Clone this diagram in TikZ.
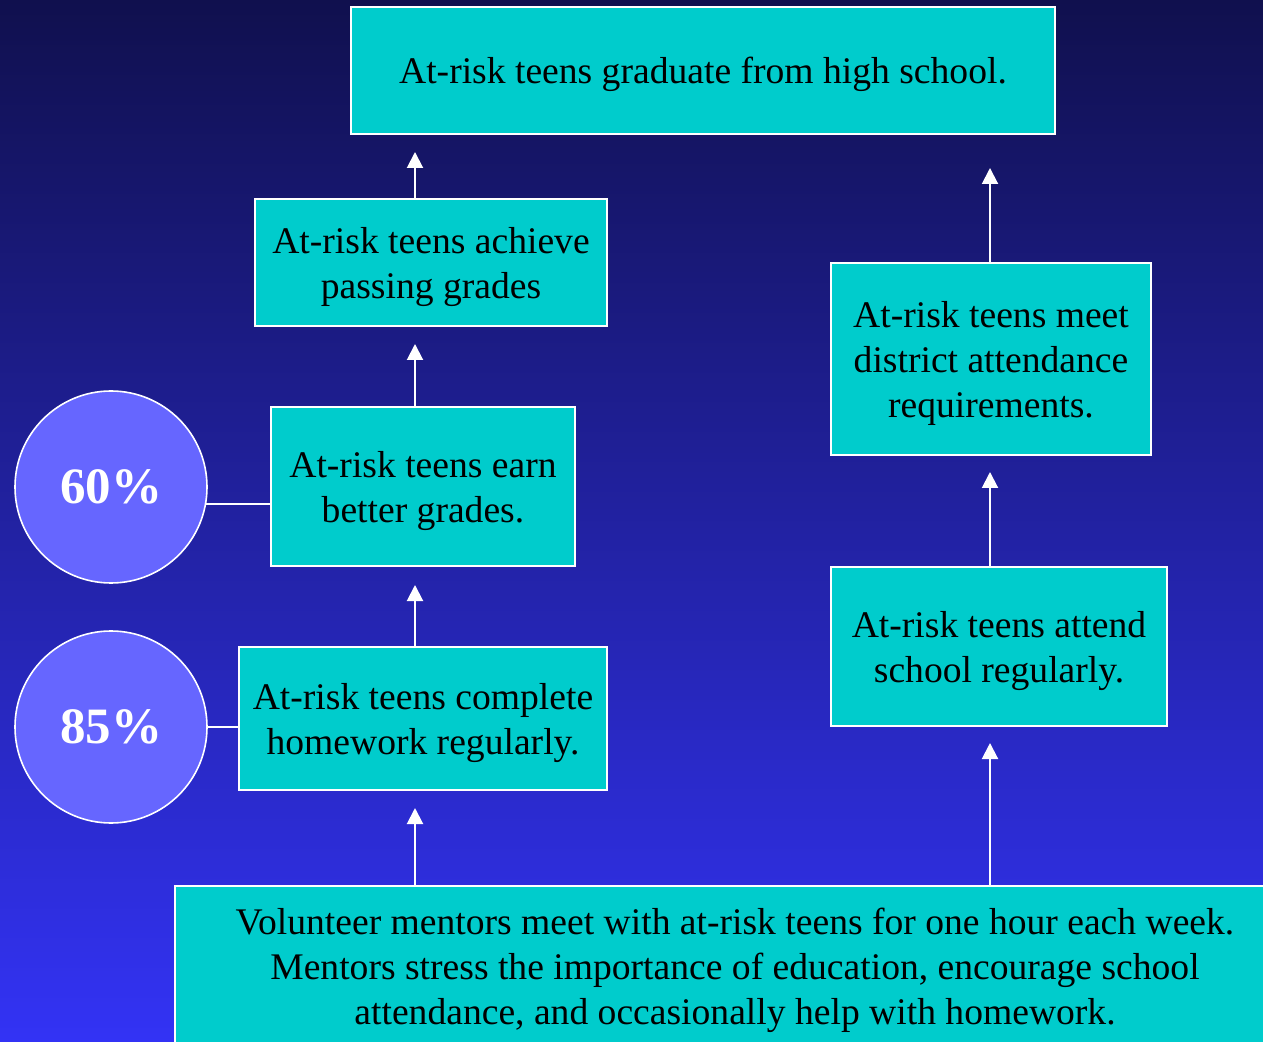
\documentclass[tikz,border=0pt]{standalone}
\usepackage{fontspec}
\setmainfont{Liberation Serif}
\usepackage{xcolor}
\usepackage{tikz}
\usetikzlibrary{arrows.meta, positioning}
\definecolor{bgtop}{RGB}{16,16,78}
\definecolor{bgbottom}{RGB}{51,51,245}
\definecolor{teal}{RGB}{0,204,204}
\definecolor{ringblue}{RGB}{102,102,255}
\tikzstyle{arrow} = [white, line width=1pt, -{Triangle[width=8pt,length=8pt]}]

\begin{document}
\begin{tikzpicture}[x=0.5pt, y=-0.5pt,
			outcome/.style={rectangle, draw=white, line width=1pt, fill=teal, align=center,
				font=\fontsize{18.8}{22.5}\selectfont, inner sep=0pt, text depth=-1.5pt},
			rate/.style={circle, draw=white, line width=0.8pt, fill=ringblue, minimum size=96pt,
				text=white, font=\fontsize{25.5}{30}\selectfont\bfseries, inner sep=0pt}
			]
			
			% Background
			\useasboundingbox (0,0) rectangle (1263,1042);
			\clip (0,0) rectangle (1263,1042);
			\shade[top color=bgtop, bottom color=bgbottom] (0,0) rectangle (1263,1042);
			
			% Outcome boxes
			\node[outcome, minimum width=352pt, minimum height=63.5pt] (goal) at (703,70.5) {At-risk teens graduate from high school.};
			\node[outcome, minimum width=176pt, minimum height=63.5pt] (pass) at (431,262.5) {At-risk teens achieve\\ passing grades};
			\node[outcome, minimum width=152pt, minimum height=79.5pt] (earn) at (423,486.5) {At-risk teens earn\\ better grades.};
			\node[outcome, minimum width=184pt, minimum height=71.5pt] (hw) at (423,718.5) {At-risk teens complete\\ homework regularly.};
			\node[outcome, minimum width=160pt, minimum height=96pt] (meet) at (991,359) {At-risk teens meet\\ district attendance\\ requirements.};
			\node[outcome, minimum width=168pt, minimum height=79.5pt] (attend) at (999,646.5) {At-risk teens attend\\ school regularly.};
			\node[outcome, minimum width=560pt, minimum height=80pt] (mentor) at (735,966) {Volunteer mentors meet with at-risk teens for one hour each week.\\ Mentors stress the importance of education, encourage school\\ attendance, and occasionally help with homework.};
			
			% Result circles
			\node[rate] (r60) at (111,487) {60\%};
			\node[rate] (r85) at (111,727) {85\%};
			
			% Arrow tips stop short of the next box
			\coordinate (tipgoalL) at (415,152);
			\coordinate (tippass) at (415,344);
			\coordinate (tipearn) at (415,585);
			\coordinate (tiphw) at (415,808);
			\coordinate (tipgoalR) at (990,168);
			\coordinate (tipmeet) at (990,472);
			\coordinate (tipattend) at (990,743);
			
			% Left chain
			\draw[arrow] (mentor.north -| tiphw) -- (tiphw);
			\draw[arrow] (hw.north -| tipearn) -- (tipearn);
			\draw[arrow] (earn.north -| tippass) -- (tippass);
			\draw[arrow] (pass.north -| tipgoalL) -- (tipgoalL);
			
			% Right chain
			\draw[arrow] (mentor.north -| tipattend) -- (tipattend);
			\draw[arrow] (attend.north -| tipmeet) -- (tipmeet);
			\draw[arrow] (meet.north -| tipgoalR) -- (tipgoalR);
			
			% Circles to boxes
			\draw[white, line width=1pt] (r60.-10) -- (r60.-10 -| earn.west);
			\draw[white, line width=1pt] (r85.east) -- (r85.east -| hw.west);
			
		\end{tikzpicture}
\end{document}
